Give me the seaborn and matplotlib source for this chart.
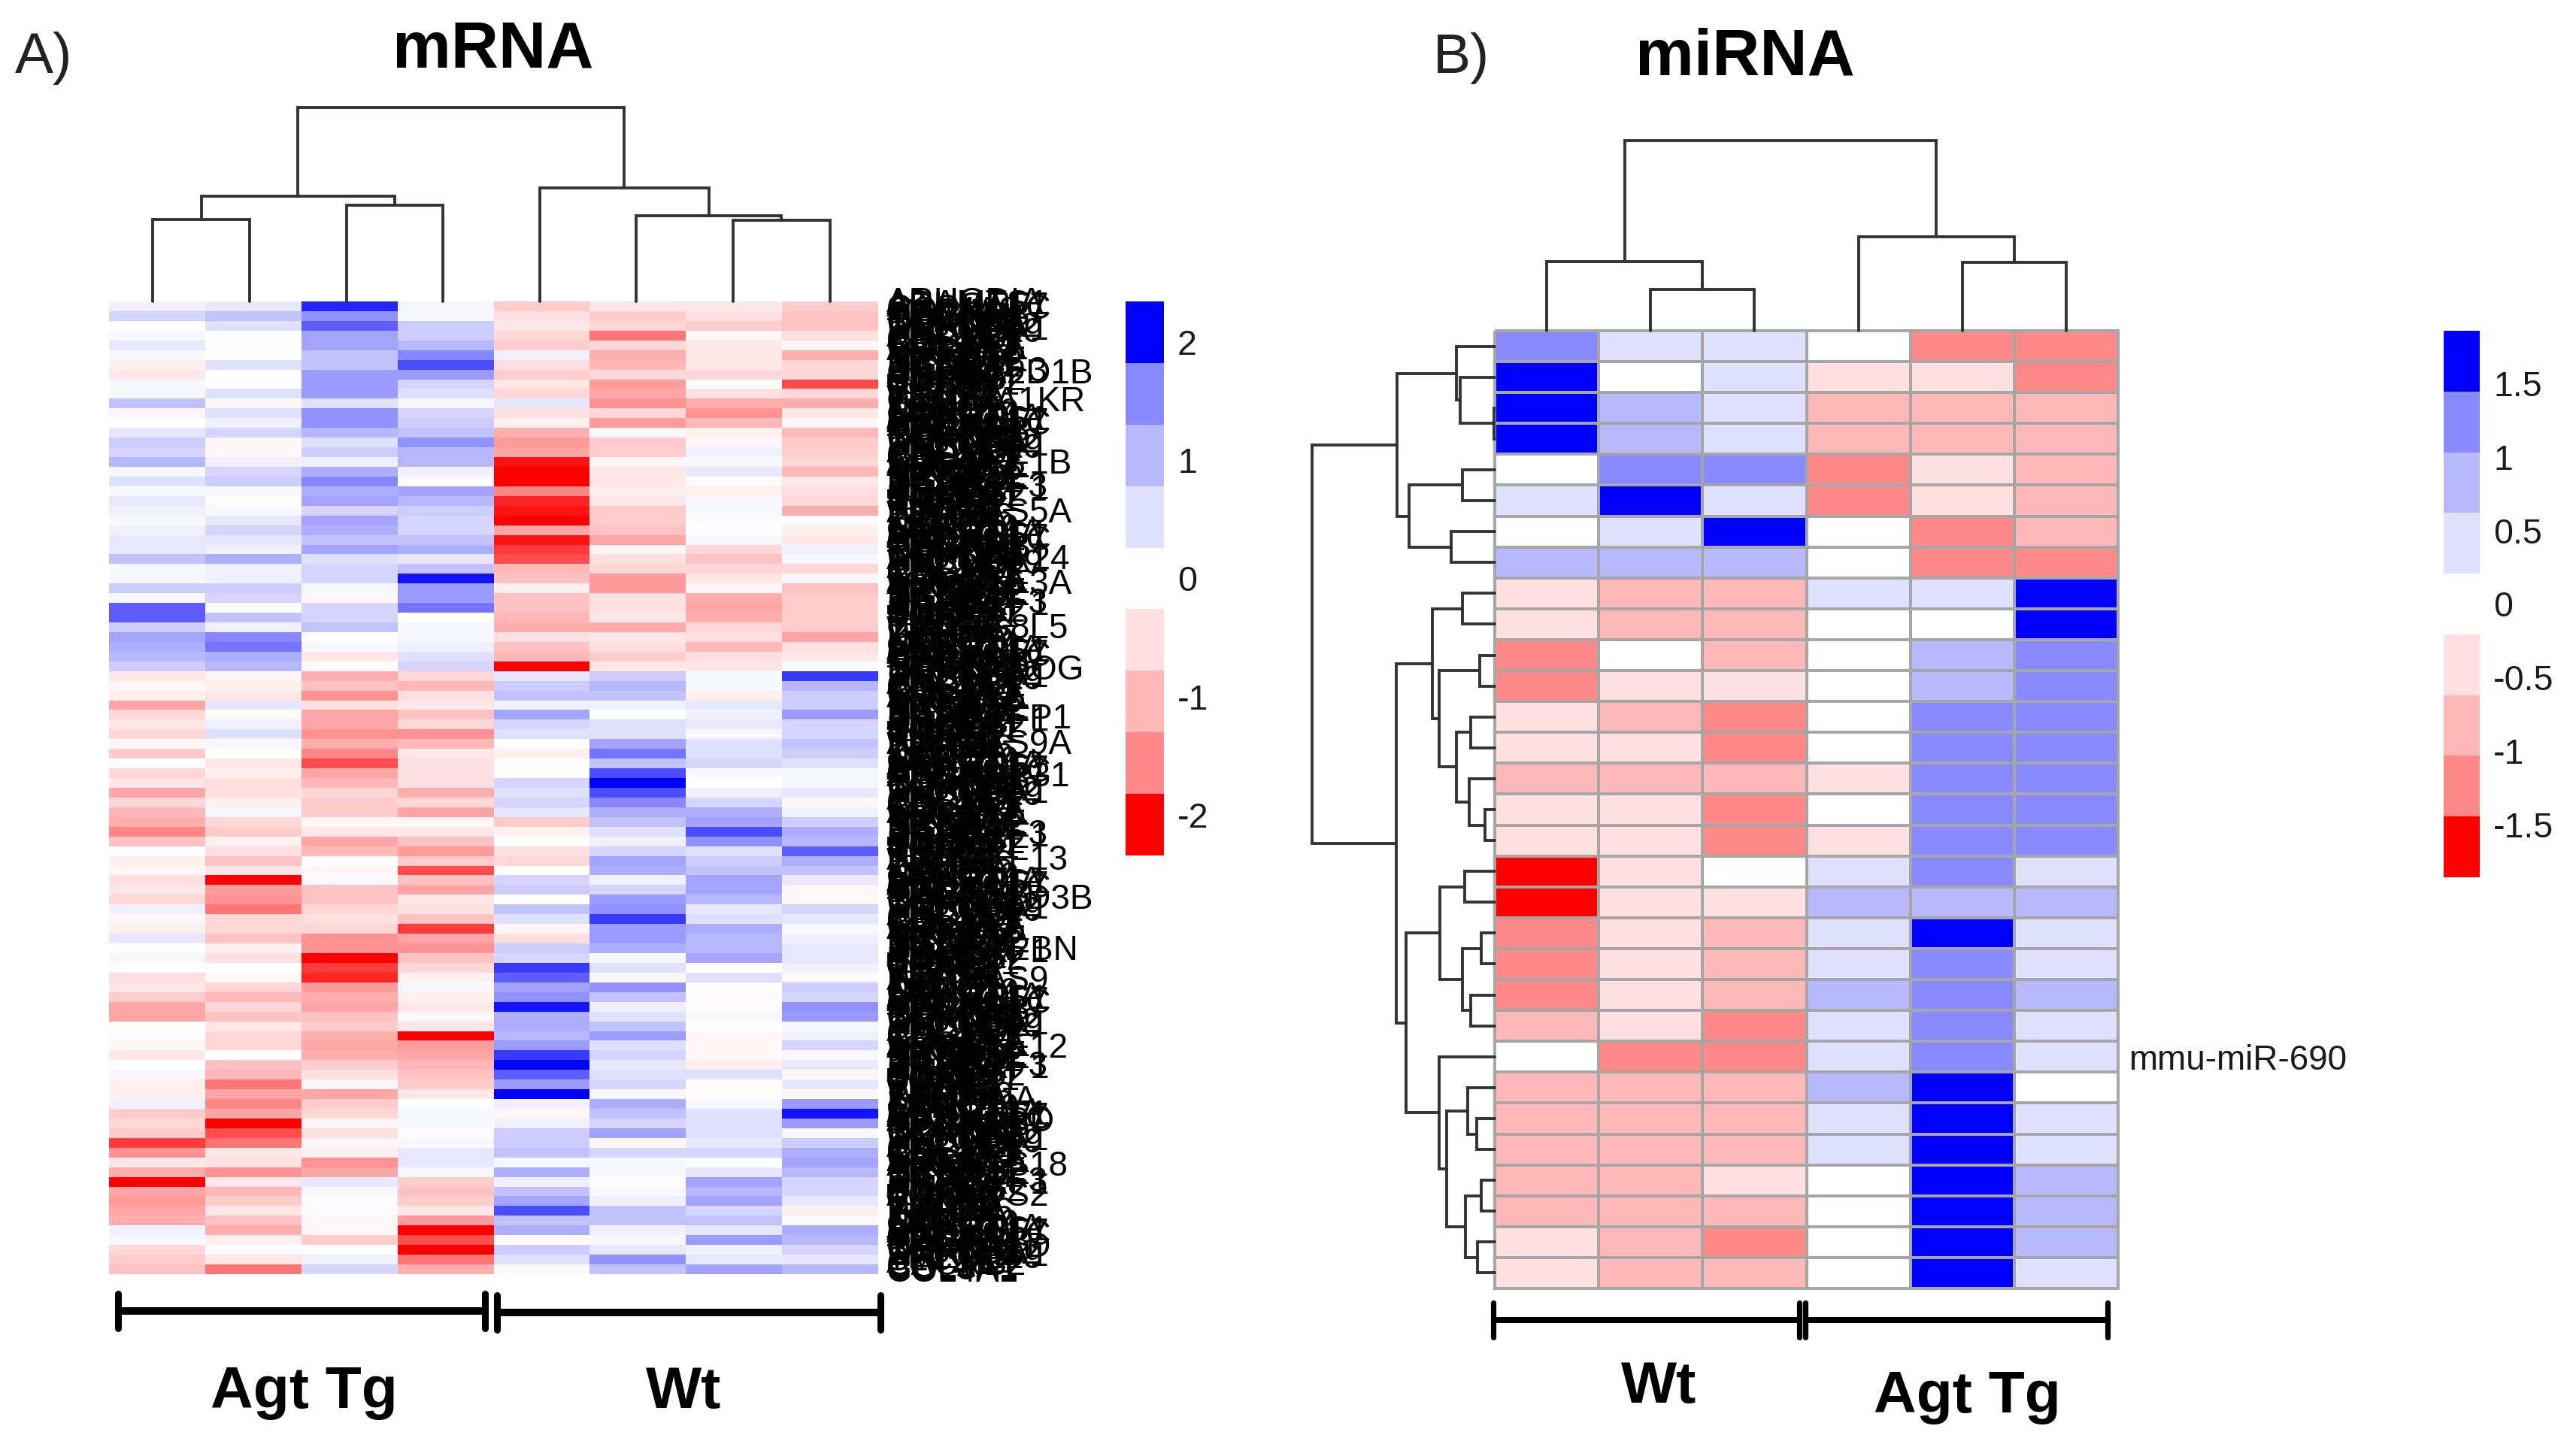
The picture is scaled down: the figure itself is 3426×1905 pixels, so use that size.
import numpy as np
import pandas as pd
import seaborn as sns
import matplotlib.pyplot as plt
from matplotlib.colors import ListedColormap, BoundaryNorm, LinearSegmentedColormap

sns.set_theme(style="white")
plt.rcParams['font.family'] = ['Liberation Sans', 'DejaVu Sans']
plt.rcParams['text.color'] = 'black'

FIG_W, FIG_H = 3426, 1905

# mRNA heatmap, values read by eye (top to bottom)
tg1 = [.2,.5,0,.1,.3,.1,-.2,-.3,.1,.1,.7,-.1,0,.3,.6,.5,.8,.1,.4,.1,.3,.2,.1,.2,.3,.3,.7,.1,.1,.6,.1,1.5,1.5,.6,1.0,.9,.8,.6,-.3,-.1,-.2,-1.0,-.5,-.3,-.5,-.1,-.6,0,-.5,-.3,
       -1.0,-.5,-.8,-.9,-1.3,-.7,0,-.2,-.1,-.4,-.3,-.5,.2,-.1,-.2,.3,0,.1,0,-.4,-.3,-.6,-1.0,-1.0,0,.05,-.1,-.3,0,.1,-.2,-.2,.2,-.6,-.5,-.6,-1.7,-1.2,-.3,-.9,-2.0,-1.0,-1.1,-1.0,-.9,.2,.1,-.5,-.6,-.7]
tg2 = [.3,.7,.4,0,0,0,.4,0,0,.4,-.1,.4,.2,.5,-.1,-.1,.2,.5,.6,.1,0,.1,.3,.5,.3,.2,.9,.2,.2,.6,.5,0,.7,.2,1.3,1.4,.9,.8,-.1,-.2,-.3,.3,-.05,.2,.4,.1,0,-.3,-.2,-.4,
       -.4,-.2,.1,-.5,-.6,-.2,-.4,-.7,-.3,-2,-1.1,-1.2,-1.4,-.5,-.5,-.7,-.2,-.4,0,-.1,-.5,-.8,-.5,-.7,-.3,-.5,-.5,0,-.7,-.8,-1.4,-1.0,-1.3,-1.0,-2.2,-1.6,-1.4,-.3,-.4,-1.2,-.3,-.8,-.6,-.3,-.7,-.9,-.2,.05,-.3,-1.4]
tg3 = [1.8,1.2,1.5,1.0,1.0,.7,.7,1.1,1.1,1.1,.4,1.2,1.2,.8,.4,.6,.2,.9,1.3,.9,1.0,.5,1.0,.9,.7,1.0,.4,.5,.5,.1,-.1,.5,.5,.7,0,.1,-.3,-.05,-.9,-.7,-1.2,-.4,-1.0,-1.0,-1.2,-.9,-1.3,-1.6,-1.0,-.8,
       -.5,-.6,-.6,-.1,-.3,-1.0,-.8,0,-.1,.05,-.7,-.7,-.5,-.4,-.5,-1.2,-1.2,-2.0,-1.7,-1.8,-1.1,-.9,-1.0,-.7,-.6,-.9,-1.0,-.9,-.6,-.4,-.1,-1.0,-.6,-.5,-.1,-.4,-.1,-.2,-1.2,-1.0,.3,.1,.05,.05,-.1,-.1,-.6,0,.2,.5]
tg4 = [.1,.1,.6,.6,.8,1.3,1.6,1.1,.5,.4,.1,.5,.6,.7,1.2,.8,.8,.2,0,1.0,.8,.6,.5,.5,.7,.9,.3,.7,1.9,1.1,1.1,1.4,0,.1,.1,.2,.4,.5,-.5,-.8,-.4,-.3,-.7,-.5,-1.2,-.8,-.3,-.4,-.4,-.4,
       -.9,-.5,-1.0,-.1,-.3,-.7,-1.1,-.6,-1.6,-.7,-1.0,-.3,-.4,-.7,-1.7,-1.0,-1.2,-.7,-.5,-.2,.1,-.2,-.3,-.1,-.3,-2.0,-1.1,-1.0,-.8,-.7,-.6,-.3,0,.1,.1,-.05,.1,.3,.3,.1,-.6,-.7,-.6,-.3,-1.1,-2.0,-1.6,-2.1,-1.4,-.9]
wt1 = [-.6,-.4,-.3,-.5,-.6,.2,-.4,-.6,-.3,-.5,.3,-.4,-.2,-.9,-1.1,-1.0,-1.9,-2.2,-2.1,-1.3,-1.8,-1.9,-2,-1.0,-1.9,-1.7,-1.6,-.8,-.7,-.2,-.7,-.7,-.8,-.9,-.4,-.7,-.8,-2.0,.3,.6,.7,.2,1.0,.5,.4,0,-.2,0,0,.5,
       .4,.5,.3,-.6,-.2,0,-.4,-.5,0,.5,.6,0,.7,.4,-.1,-.4,.6,.5,1.7,1.5,1.0,1.2,1.9,.9,.9,.8,1.1,1.7,2.4,1.5,1.1,2.5,.2,-.1,.2,.6,.6,.7,.1,.9,.2,.7,1.0,1.6,.7,.9,-.05,.6,.4,.05]
wt2 = [-.3,-.6,-.5,-1.4,-.5,-.9,-.8,-.5,-1.1,-1.0,-1.2,-.5,-1.1,.1,-.6,-.6,-.1,-.3,-.3,-.2,-.3,-.6,-.6,-.7,-1.0,-.1,-.4,-.5,-1.1,-1.1,-.4,-.4,-.3,-.9,-.3,-.4,-.6,-.3,.6,.8,.7,.2,0,.4,.4,1.0,1.4,.7,1.6,2.0,
       1.6,1.3,.9,.7,.4,.2,.5,1.0,.9,.2,.5,1.1,1.2,1.7,1.1,1.1,.9,.1,.4,.1,1.2,.7,.2,.4,.7,1.1,.4,.5,.3,.4,.5,.1,.9,.7,.5,1.0,-.1,.5,.1,.1,-.05,.1,.2,.7,.7,.2,.1,.3,1.2,.7]
wt3 = [-.3,-.4,-.6,-.1,-.3,-.3,-.3,-.5,.05,-.4,-.9,-1.2,-.8,-.2,-.1,.2,.1,.3,-.05,-.2,.1,.1,.05,0,.1,-.5,-.7,-.5,-.3,-.1,-.9,-1.0,-.9,-.5,-.4,-.8,-.4,-.3,.1,.1,-.2,.3,.2,.3,.1,.4,.4,.5,.1,0,
       .2,.5,.9,1.0,1.6,1.2,.4,.6,.7,1.0,1.0,.8,.3,.4,.9,.8,.8,1.0,0,.4,0,.05,-.05,.1,0,-.1,-.1,-.1,-.2,.4,-.05,-.05,.1,.4,.4,.4,.3,.5,0,.3,1.0,.8,1.0,.5,.7,.3,1.1,.2,.3,1.0]
wt4 = [-.6,-.7,-.7,-.4,-.1,-.9,-.5,-.5,-1.6,-.5,-.9,-.3,-.1,-.8,-.6,-.6,-.5,-.8,-.3,-.4,-.5,-.9,.05,-.2,-.3,.2,.1,-.5,-.1,-.7,-.6,-.6,-.6,-.6,-1.0,-.4,-.3,.02,1.7,.8,.6,.6,1.1,.5,.5,.7,.6,.4,.1,.1,
       .3,-.1,.2,.6,.9,.8,1.5,.9,.7,.3,-.1,-.1,.5,.3,.1,.2,.3,.3,.2,.05,.6,.5,1.2,1.1,.1,.2,.5,.1,.3,-.1,.3,-.1,1.1,1.9,1.1,.1,.6,.9,1.0,.8,.5,.5,.3,-.2,.05,.9,.8,.5,.3,.8]

# miRNA heatmap, 31 rows
mi_wt1 = [1.25,1.75,1.75,1.75,0,.4,0,.75,-.4,-.4,-1.25,-1.25,-.4,-.4,-.75,-.4,-.4,-1.75,-1.75,-1.25,-1.25,-1.25,-.75,0,-.75,-.75,-.75,-.75,-.75,-.4,-.4]
mi_wt2 = [.4,0,.75,.75,1.25,1.75,.4,.75,-.75,-.75,0,-.4,-.75,-.4,-.75,-.4,-.4,-.4,-.4,-.4,-.4,-.4,-.4,-1.25,-.75,-.75,-.75,-.75,-.75,-.75,-.75]
mi_wt3 = [.4,.4,.4,.4,1.25,.4,1.75,.75,-.75,-.75,-.75,-.4,-1.25,-1.25,-.75,-1.25,-1.25,0,-.4,-.75,-.75,-.75,-1.25,-1.25,-.75,-.75,-.75,-.4,-.75,-1.25,-.75]
mi_tg1 = [0,-.4,-.75,-.75,-1.25,-1.25,0,0,.4,0,0,0,0,0,-.4,0,-.4,.4,.75,.4,.4,.75,.4,.4,.75,.4,.4,0,0,0,0]
mi_tg2 = [-1.25,-.4,-.75,-.75,-.4,-.4,-1.25,-1.25,.4,0,.75,.75,1.25,1.25,1.25,1.25,1.25,1.25,.75,1.75,1.25,1.25,1.25,1.25,1.75,1.75,1.75,1.75,1.75,1.75,1.75]
mi_tg3 = [-1.25,-1.25,-.75,-.75,-.75,-.75,-.75,-1.25,1.75,1.75,1.25,1.25,1.25,1.25,1.25,1.25,1.25,.4,.75,.4,.4,.75,.4,.4,0,.4,.4,.75,.75,.75,.4]
mi_row_name = ["mmu-miR-690"]
mi_row_pos = [23]

# dendrograms: (left, right, height in px); ids above the leaf count are earlier merges
tree_mrna = [(0,1,109),(2,3,128),(8,9,140),(6,7,108),(5,11,114),(4,12,151),(10,13,258)]
tree_mi_col = [(1,2,54.5),(0,6,92),(4,5,91),(3,8,125),(7,9,252.6)]
tree_mi_row = [(2,3,1),(1,31,46.7),(0,32,51.7),(4,5,43),(6,7,58),(34,35,115),(33,36,130.7),
               (8,9,43),(10,11,20),(12,13,32),(15,16,12.7),(14,41,34),(40,42,51.7),(39,43,75),(38,44,84),
               (17,18,40.7),(19,20,18),(21,22,32.7),(47,48,43),(46,49,74),(25,26,24),(24,51,36.7),
               (27,28,18),(29,30,23),(53,54,39),(52,55,65),(23,56,75),(50,57,119),(45,58,131.7),(37,59,245)]

# gene labels: only the ends of the longest ones can be read
filler_genes = ["ARHGDIA","ADAMTS1","ARHGEF7","CACNA1C","COL4A2","MAPK14","PDGFRB","NFATC1","NOTCH1","CTNNB1",
                "TGFBR2","DNAJC12","HNRNPA1","TMEM119","SLC2A4","ATP2A2","CACNB2","COL1A1","COL3A1","COL4A1",
                "CDKN1A","ABCA12","MAP3K7","MAP2K6","PIK3CA","PRKAG2","MYH11","MYOCD","NEDD4L","NCOR2",
                "RAPGEF3","RASGRF1","RBM20","SMAD3","SORBS2","STAT3","SPTBN1","TGFB2","THBS1","TIMP3",
                "TNNT2","VEGFA","WNT5A","ZBTB16","ZFP36","ITGB1","LAMC1","KCNQ1","LRRC10","GPR124"]
long_genes = ["CACNA2D1B","COL27A1KR","ARHGEF1B","ADAMTS5A","ARHGAP24","ARHGEF3A","CACNG8L5","MAGEA9OG",
              "ARHGEFP1","ADAMTS9A","ARHGAP31","ARHGEF13","CACNA2D3B","MAGEA2BN","ADAMTS9","ARHGEF12",
              "SERPINA","ADAMTSD","ADAMTS18","ADAMTS2","CACNA1D"]
long_gene_y = [496,533,617,681,744,778,834,892,955,991,1033,1144,1195,1263,1304,1394,1464,1493,1549,1590,1658]
n_gene_labels = 420

# colour key
palette = ['#0000ff','#8888ff','#b8b8ff','#e0e0ff','#ffffff','#ffe0e0','#ffb8b8','#ff8888','#ff0000']
key_levels = [4,3,2,1,0,-1,-2,-3,-4]
key_a_ticks = [2,1,0,-1,-2]
key_b_ticks = [1.5,1,0.5,0,-0.5,-1,-1.5]
mi_bounds = [-2.25,-1.5,-1,-.5,-.25,.25,.5,1,1.5,2.25]


def px_axes(fig, left, top, right, bottom):
    return fig.add_axes([left/FIG_W, 1-bottom/FIG_H, (right-left)/FIG_W, (bottom-top)/FIG_H])


def draw_tree(ax, merges, n_leaf, sideways=False):
    pos = list(np.arange(n_leaf)+0.5)
    hgt = [0]*n_leaf
    for a, b, h in merges:
        across = [pos[a], pos[a], pos[b], pos[b]]
        up = [hgt[a], h, h, hgt[b]]
        if sideways:
            ax.plot(up, across, color='#333333', lw=2.8, solid_joinstyle='miter', clip_on=False)
        else:
            ax.plot(across, up, color='#333333', lw=2.8, solid_joinstyle='miter', clip_on=False)
        pos.append((pos[a]+pos[b])/2)
        hgt.append(h)
    ax.axis('off')


def draw_key(fig, left, top, right, bottom, ticks, per_unit):
    ax = px_axes(fig, left, top, right, bottom)
    cells = pd.DataFrame({'key': key_levels})
    sns.heatmap(cells, ax=ax, cmap=ListedColormap(palette[::-1]), cbar=False,
                xticklabels=False, yticklabels=False)
    ax.yaxis.tick_right()
    ax.set_yticks([4.5-t*per_unit for t in ticks], [f'{t:g}' for t in ticks], rotation=0,
                  fontsize=33.5, va='center_baseline', color='#1a1a1a')
    ax.tick_params(axis='y', length=0, pad=13)


fig = plt.figure(figsize=(FIG_W/100, FIG_H/100), dpi=100, facecolor='white')

# A) mRNA
mrna = pd.DataFrame({'Tg1': tg1, 'Tg2': tg2, 'Tg3': tg3, 'Tg4': tg4,
                     'Wt1': wt1, 'Wt2': wt2, 'Wt3': wt3, 'Wt4': wt4})
nodes = [(0, '#ff0000'), (0.5-1.3/4, '#ff8888'), (0.5-.8/4, '#ffb8b8'), (0.5-.4/4, '#ffe0e0'),
         (0.5, '#ffffff'), (0.5+.4/4, '#e0e0ff'), (0.5+.8/4, '#b8b8ff'), (0.5+1.3/4, '#8888ff'), (1, '#0000ff')]
bwr_key = LinearSegmentedColormap.from_list('bwr_key', nodes)

ax_a = px_axes(fig, 145, 401, 1168, 1695)
sns.heatmap(mrna, ax=ax_a, cmap=bwr_key, vmin=-2, vmax=2, cbar=False, xticklabels=False, yticklabels=False)
gene_names = list(np.resize(filler_genes, n_gene_labels))
for name, y_px in zip(long_genes, long_gene_y):
    gene_names[round((y_px-401)/(1695-401)*n_gene_labels)] = name
ax_a.yaxis.tick_right()
ax_a.set_yticks((np.arange(n_gene_labels)+0.5)*len(mrna)/n_gene_labels, gene_names, rotation=0,
                fontsize=33, va='center', color='black')
ax_a.tick_params(axis='y', length=0, pad=8)

ax_a_top = px_axes(fig, 139, 143, 1168, 401)
ax_a_top.set_xlim(0, 8)
ax_a_top.set_ylim(0, 258)
draw_tree(ax_a_top, tree_mrna, 8)
draw_key(fig, 1497, 401, 1548, 1138, key_a_ticks, 1.92)

# B) miRNA
mirna = pd.DataFrame({'Wt1': mi_wt1, 'Wt2': mi_wt2, 'Wt3': mi_wt3, 'Tg1': mi_tg1, 'Tg2': mi_tg2, 'Tg3': mi_tg3})
ax_b = px_axes(fig, 1988, 440, 2817, 1714)
sns.heatmap(mirna, ax=ax_b, cmap=ListedColormap(palette[::-1]), norm=BoundaryNorm(mi_bounds, 9), cbar=False,
            linewidths=2.6, linecolor='#a6a6a6', xticklabels=False, yticklabels=False)
ax_b.collections[0].set_clip_on(False)
ax_b.yaxis.tick_right()
ax_b.set_yticks([p+0.5 for p in mi_row_pos], mi_row_name, rotation=0, fontsize=33, va='center_baseline', color='#1a1a1a')
ax_b.tick_params(axis='y', length=0, pad=10)

ax_b_top = px_axes(fig, 1988, 187, 2817, 440)
ax_b_top.set_xlim(0, 6)
ax_b_top.set_ylim(0, 253)
draw_tree(ax_b_top, tree_mi_col, 6)

ax_b_left = px_axes(fig, 1745, 440, 1988, 1714)
ax_b_left.set_xlim(245, 0)
ax_b_left.set_ylim(31, 0)
draw_tree(ax_b_left, tree_mi_row, 31, sideways=True)
draw_key(fig, 3250, 440, 3298, 1167, key_b_ticks, 2.42)

# sample brackets and headings, placed in picture pixels
over = fig.add_axes([0, 0, 1, 1], facecolor='none')
over.set_xlim(0, FIG_W)
over.set_ylim(FIG_H, 0)
over.axis('off')

bracket_spans = [(157, 645, 1744, 10), (661, 1171, 1746, 10), (1986, 2393, 1756, 8), (2401, 2803, 1756, 8)]
for x0, x1, y, w in bracket_spans:
    over.plot([x0, x1], [y, y], color='black', lw=w*0.72, solid_capstyle='butt')
    for x in (x0, x1):
        over.plot([x, x], [y-23, y+23], color='black', lw=w*0.65, solid_capstyle='round')

over.text(656, 90, 'mRNA', fontsize=63, fontweight='bold', ha='center', va='baseline')
over.text(2321, 99, 'miRNA', fontsize=63, fontweight='bold', ha='center', va='baseline')
over.text(20, 97, 'A)', fontsize=55, ha='left', va='baseline', color='#222222')
over.text(1906, 97, 'B)', fontsize=54, ha='left', va='baseline', color='#222222')
over.text(404, 1873, 'Agt Tg', fontsize=56.5, fontweight='bold', ha='center', va='baseline')
over.text(909, 1873, 'Wt', fontsize=56.5, fontweight='bold', ha='center', va='baseline')
over.text(2206, 1866, 'Wt', fontsize=56.5, fontweight='bold', ha='center', va='baseline')
over.text(2616, 1879, 'Agt Tg', fontsize=56.5, fontweight='bold', ha='center', va='baseline')

fig.savefig('out.png', dpi=100)
